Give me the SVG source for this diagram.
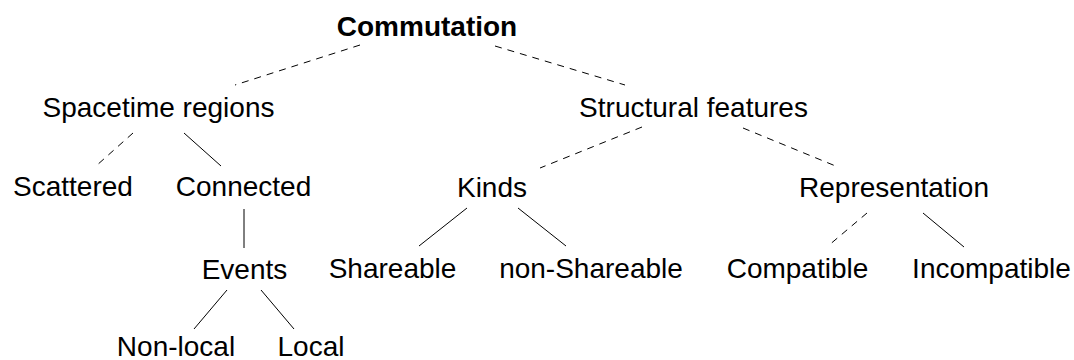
<svg xmlns="http://www.w3.org/2000/svg" width="1074" height="360" viewBox="0 0 1074 360">
  <style>
    text { font-family: "Liberation Sans", Arial, sans-serif; font-size: 28px; fill: #000; text-anchor: middle; }
    .root { font-weight: bold; }
    .edge { stroke: #000; stroke-width: 1; fill: none; }
    .dash { stroke-dasharray: 7 6; }
  </style>
  <rect width="1074" height="360" fill="#fff"/>

  <!-- tree branches: dashed and solid -->
  <g id="connectors">
    <line class="edge dash" x1="360" y1="45" x2="235" y2="85"/>
    <line class="edge dash" x1="495" y1="46" x2="625" y2="85"/>
    <line class="edge dash" x1="133" y1="133" x2="96" y2="166"/>
    <line class="edge" x1="184" y1="133" x2="221" y2="166"/>
    <line class="edge" x1="244" y1="209" x2="244" y2="248"/>
    <line class="edge" x1="227" y1="290" x2="194" y2="329"/>
    <line class="edge" x1="261" y1="290" x2="294" y2="329"/>
    <line class="edge dash" x1="642" y1="127" x2="540" y2="168"/>
    <line class="edge dash" x1="743" y1="128" x2="838" y2="167"/>
    <line class="edge" x1="467" y1="208" x2="419" y2="246"/>
    <line class="edge" x1="518" y1="208" x2="566" y2="246"/>
    <line class="edge dash" x1="867" y1="213" x2="828" y2="246"/>
    <line class="edge" x1="923" y1="213" x2="964" y2="247"/>
  </g>

  <g id="commutation"><text class="root" x="427" y="36">Commutation</text></g>
  <g id="spacetime-regions"><text x="158.5" y="117">Spacetime regions</text></g>
  <g id="structural-features"><text x="693.5" y="117">Structural features</text></g>
  <g id="scattered"><text x="73" y="196">Scattered</text></g>
  <g id="connected"><text x="243.5" y="196">Connected</text></g>
  <g id="events"><text x="244.5" y="279">Events</text></g>
  <g id="non-local"><text x="176" y="356">Non-local</text></g>
  <g id="local"><text x="311" y="356">Local</text></g>
  <g id="kinds"><text x="492" y="197">Kinds</text></g>
  <g id="shareable"><text x="392.5" y="278">Shareable</text></g>
  <g id="non-shareable"><text x="591" y="278">non-Shareable</text></g>
  <g id="representation"><text x="894" y="197">Representation</text></g>
  <g id="compatible"><text x="797.5" y="278">Compatible</text></g>
  <g id="incompatible"><text x="991.5" y="278">Incompatible</text></g>
</svg>
